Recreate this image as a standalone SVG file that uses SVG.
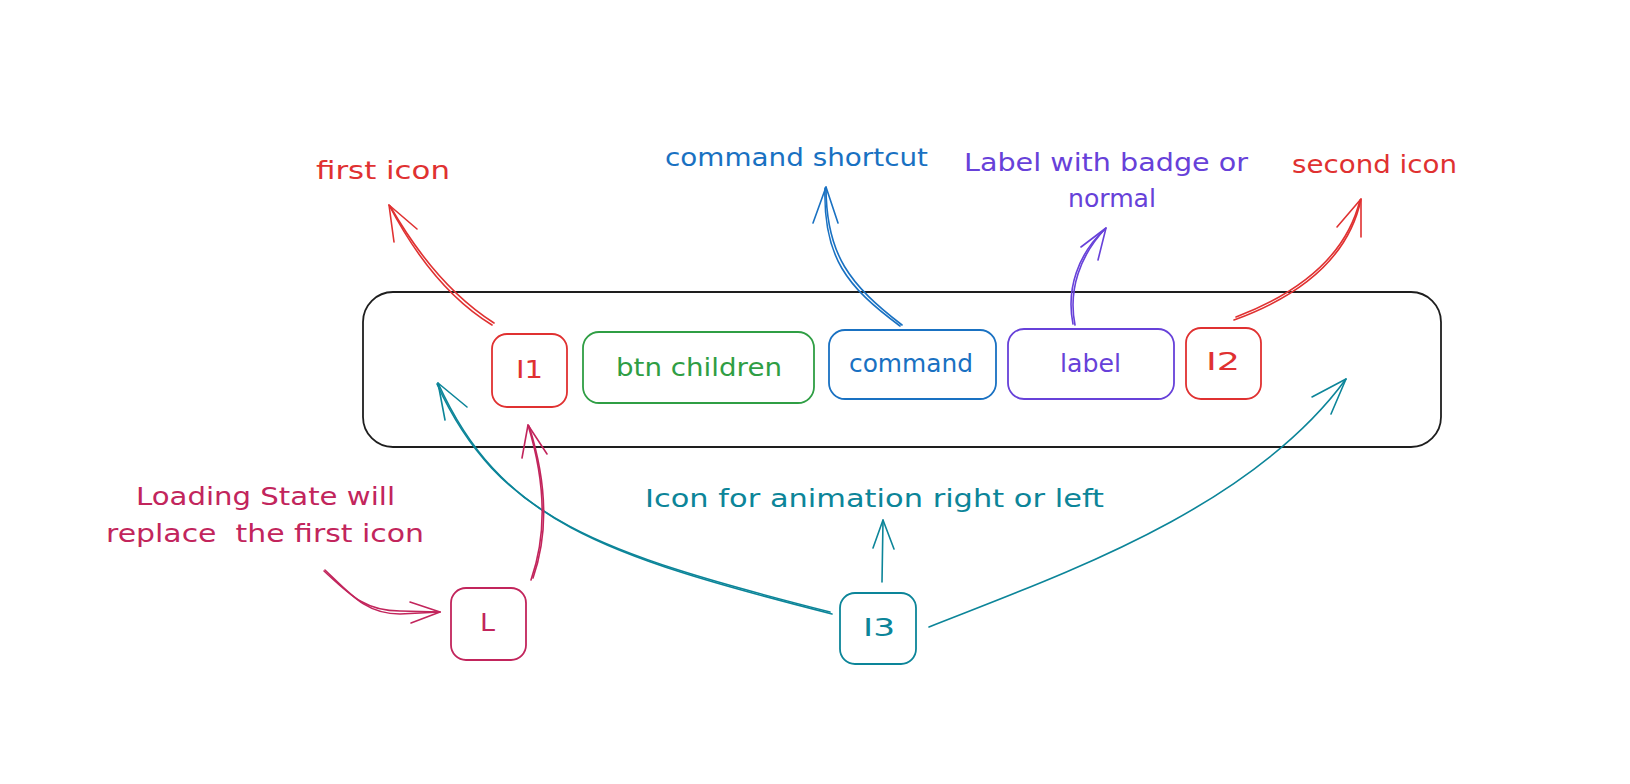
<svg xmlns="http://www.w3.org/2000/svg" width="1630" height="784" viewBox="0 0 1630 784">
<style>
  text { font-family: "DejaVu Sans", "Liberation Sans", sans-serif; font-size: 25px; white-space: pre; }
  .box { fill: none; stroke-width: 1.8; }
  .ln { fill: none; stroke-width: 1.6; stroke-linecap: round; stroke-linejoin: round; }
  .red { stroke: #e03131; } .tred { fill: #e03131; }
  .grn { stroke: #2f9e44; } .tgrn { fill: #2f9e44; }
  .blu { stroke: #1971c2; } .tblu { fill: #1971c2; }
  .pur { stroke: #6741d9; } .tpur { fill: #6741d9; }
  .crm { stroke: #c2255c; } .tcrm { fill: #c2255c; }
  .tea { stroke: #0c8599; } .ttea { fill: #0c8599; }
  .blk { stroke: #1e1e1e; }
</style>
<rect width="1630" height="784" fill="#ffffff"/>

<g id="container">
  <rect class="box blk" x="363" y="292" width="1078" height="155" rx="30"/>
</g>

<g id="node-i1">
  <rect class="box red" x="492" y="334" width="75" height="73" rx="15"/>
  <text class="tred" x="516" y="378" textLength="27" lengthAdjust="spacingAndGlyphs">I1</text>
</g>
<g id="node-btn-children">
  <rect class="box grn" x="583" y="332" width="231" height="71" rx="16"/>
  <text class="tgrn" x="616" y="376" textLength="166" lengthAdjust="spacingAndGlyphs">btn children</text>
</g>
<g id="node-command">
  <rect class="box blu" x="829" y="330" width="167" height="69" rx="16"/>
  <text class="tblu" x="849" y="372" textLength="124" lengthAdjust="spacingAndGlyphs">command</text>
</g>
<g id="node-label">
  <rect class="box pur" x="1008" y="329" width="166" height="70" rx="16"/>
  <text class="tpur" x="1060" y="372" textLength="61" lengthAdjust="spacingAndGlyphs">label</text>
</g>
<g id="node-i2">
  <rect class="box red" x="1186" y="328" width="75" height="71" rx="15"/>
  <text class="tred" x="1206" y="370" textLength="34" lengthAdjust="spacingAndGlyphs">I2</text>
</g>
<g id="node-l">
  <rect class="box crm" x="451" y="588" width="75" height="72" rx="15"/>
  <text class="tcrm" x="480" y="631" textLength="15" lengthAdjust="spacingAndGlyphs">L</text>
</g>
<g id="node-i3">
  <rect class="box tea" x="840" y="593" width="76" height="71" rx="15"/>
  <text class="ttea" x="863" y="636" textLength="32" lengthAdjust="spacingAndGlyphs">I3</text>
</g>

<g id="text-first-icon">
  <text class="tred" x="316" y="179" textLength="134" lengthAdjust="spacingAndGlyphs">first icon</text>
</g>
<g id="text-command-shortcut">
  <text class="tblu" x="665" y="166" textLength="263" lengthAdjust="spacingAndGlyphs">command shortcut</text>
</g>
<g id="text-label-badge">
  <text class="tpur" x="964" y="171" textLength="284" lengthAdjust="spacingAndGlyphs">Label with badge or</text>
  <text class="tpur" x="1068" y="207" textLength="88" lengthAdjust="spacingAndGlyphs">normal</text>
</g>
<g id="text-second-icon">
  <text class="tred" x="1292" y="173" textLength="165" lengthAdjust="spacingAndGlyphs">second icon</text>
</g>
<g id="text-loading">
  <text class="tcrm" x="136" y="505" textLength="259" lengthAdjust="spacingAndGlyphs">Loading State will</text>
  <text class="tcrm" x="106" y="542" textLength="318" lengthAdjust="spacingAndGlyphs">replace  the first icon</text>
</g>
<g id="text-animation">
  <text class="ttea" x="645" y="507" textLength="459" lengthAdjust="spacingAndGlyphs">Icon for animation right or left</text>
</g>

<g id="connectors">
  <!-- I1 -> first icon -->
  <path class="ln red" d="M492,325 Q433,289 389,205"/>
  <path class="ln red" d="M494,323 Q436,286 390,206"/>
  <path class="ln red" d="M394,242 L389,205 L417,229"/>
  <!-- command -> command shortcut -->
  <path class="ln blu" d="M902,325 C850,285 826,255 826,187"/>
  <path class="ln blu" d="M900,326 C847,287 823,257 825,188"/>
  <path class="ln blu" d="M813,223 L826,187 L838,223"/>
  <!-- label -> label with badge -->
  <path class="ln pur" d="M1075,325 C1068,290 1080,255 1106,228"/>
  <path class="ln pur" d="M1073,324 C1066,289 1078,254 1105,229"/>
  <path class="ln pur" d="M1081,247 L1106,228 L1098,260"/>
  <!-- I2 -> second icon -->
  <path class="ln red" d="M1234,320 Q1344,280 1361,199"/>
  <path class="ln red" d="M1236,317 Q1341,277 1360,200"/>
  <path class="ln red" d="M1337,227 L1361,199 L1361,237"/>
  <!-- I3 -> container left -->
  <path class="ln tea" d="M832,614 C600,555 500,520 438,383"/>
  <path class="ln tea" d="M830,612 C598,553 498,518 437,384"/>
  <path class="ln tea" d="M445,420 L438,383 L467,407"/>
  <!-- L -> I1 -->
  <path class="ln crm" d="M531,580 C545,540 548,490 528,425"/>
  <path class="ln crm" d="M533,578 C547,538 549,489 529,426"/>
  <path class="ln crm" d="M522,458 L528,425 L547,454"/>
  <!-- loading text -> L -->
  <path class="ln crm" d="M324,571 C350,595 365,611 400,611 L440,612"/>
  <path class="ln crm" d="M325,570 C352,596 367,614 400,614 L440,612"/>
  <path class="ln crm" d="M410,602 L440,612 L411,623"/>
  <!-- I3 -> container right -->
  <path class="ln tea" d="M929,627 C1060,575 1250,510 1346,379"/>
  <path class="ln tea" d="M1312,397 L1346,379 L1331,414"/>
  <!-- I3 -> animation text -->
  <path class="ln tea" d="M882,582 L883,520"/>
  <path class="ln tea" d="M873,548 L883,520 L894,549"/>
</g>
</svg>
